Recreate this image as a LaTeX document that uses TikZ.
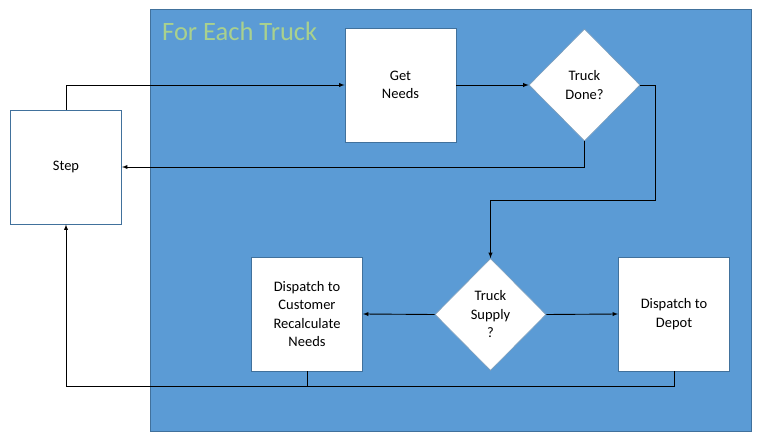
\documentclass[tikz,border=0pt]{standalone}
\usepackage{fontspec}
\setmainfont{Carlito}
\usetikzlibrary{shapes.geometric}
\definecolor{groupblue}{HTML}{5B9BD5}
\definecolor{edgeblue}{HTML}{41719C}
\definecolor{titlegreen}{HTML}{A9D18E}
\tikzset{
    box/.style={draw=edgeblue,fill=white,line width=0.9pt,minimum width=111pt,minimum height=114pt,inner sep=0pt,align=center,font=\fontsize{14.5}{18.5}\selectfont},
    decision/.style={diamond,draw=edgeblue!70,fill=white,line width=0.6pt,minimum width=111pt,minimum height=112pt,inner sep=0pt,align=center,font=\fontsize{14.5}{18.5}\selectfont},
    link/.style={line width=0.9pt}
}
\begin{document}
\begin{tikzpicture}[>=latex,x=1pt,y=-1pt]
                \useasboundingbox(0,0)rectangle(767,443);
                % group frame
                \draw[fill=groupblue,draw=edgeblue,line width=0.9pt](150,9)rectangle(751,431);
                \node[anchor=base west,inner sep=0pt,text=titlegreen,font=\fontsize{26.5}{30}\selectfont](title)at(162,41){For Each Truck};
                % nodes
                \node[box](step)at(66,167){Step};
                \node[box](needs)at(400.5,85){Get\\Needs};
                \node[decision](done)at(584.5,85){Truck\\Done?};
                \node[decision](supply)at(490.5,314.5){Truck\\Supply\\?};
                \node[box](customer)at(307,314){Dispatch to\\Customer\\Recalculate\\Needs};
                \node[box](depot)at(674,314){Dispatch to\\Depot};
                \coordinate(turn)at(655,200);
                \coordinate(back)at(66,386);
                % connectors
                \draw[link,->](step.north)|-(needs.west);
                \draw[link,->](needs.east)--(done.west);
                \draw[link,->](done.south)|-(step.east);
                \draw[link,->](done.east)-|(turn)-|(supply.north);
                \draw[link,->](supply.west)--(customer.east);
                \draw[link,->](supply.east)--(depot.west);
                \draw[link,->](customer.south)|-(back)--(step.south);
                \draw[link](depot.south)|-(back-|customer.south);
            \end{tikzpicture}
\end{document}
